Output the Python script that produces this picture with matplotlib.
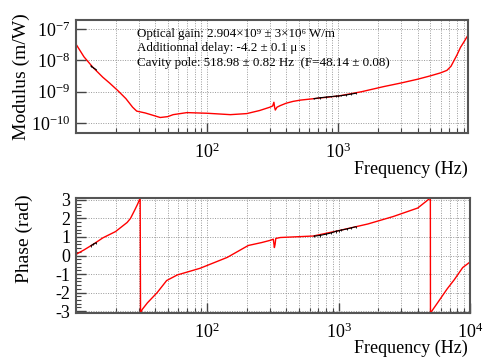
import matplotlib
matplotlib.use("Agg")
import matplotlib.pyplot as plt
from matplotlib.ticker import LogLocator, FixedLocator, NullFormatter, FuncFormatter
import numpy as np

# ---- data ----
mod_freq = [10, 11.5, 13.5, 16, 18, 21, 24, 27, 29, 33.6, 38, 43.8, 50, 55, 70, 100,
            150, 200, 250, 300, 315, 322, 326, 330, 340, 360, 400, 450, 514, 700,
            1000, 1500, 2200, 3000, 4000, 5000, 6000, 6700, 7200, 7600, 8000,
            8500, 9000, 9700]
mod_val = [3.3e-8, 1.3e-8, 5.9e-9, 2.9e-9, 1.9e-9, 1.05e-9, 6.0e-10, 3.2e-10, 2.4e-10,
           2.1e-10, 1.8e-10, 1.5e-10, 1.6e-10, 1.85e-10, 2.15e-10, 2.05e-10,
           1.85e-10, 2.0e-10, 2.5e-10, 3.2e-10, 3.5e-10, 4.6e-10, 3.2e-10, 2.6e-10,
           3.2e-10, 3.6e-10, 4.3e-10, 4.9e-10, 5.4e-10, 6.2e-10,
           7.3e-10, 1.0e-9, 1.45e-9, 1.9e-9, 2.5e-9, 3.2e-9, 4.0e-9, 4.8e-9,
           6.5e-9, 1.0e-8, 1.5e-8, 2.6e-8, 3.8e-8, 6.4e-8]

ph_freq = [10, 11.5, 13.5, 16, 20, 22, 24.5, 26, 28, 29.5, 30.8, 31.0, 32, 35, 41.5,
           49, 59, 88, 142, 205, 260, 302, 318, 324, 328, 332, 360, 640, 1000, 1670,
           2600, 4000, 4990, 5000, 5600, 6700, 7600, 8800, 10000]
ph_val = [0.06, 0.3, 0.6, 0.95, 1.29, 1.52, 1.78, 2.0, 2.45, 2.78, 3.1, -3.1, -2.9,
          -2.55, -2.0, -1.35, -1.05, -0.69, -0.1, 0.54, 0.7, 0.82, 0.88, 0.43, 0.6,
          0.92, 0.97, 1.05, 1.34, 1.7, 2.1, 2.56, 3.1, -3.1, -2.6, -1.8, -1.3,
          -0.65, -0.35]

meas_lo_freq = [13.0, 13.5, 14.2]
meas_lo_mod = [6.6e-9, 5.9e-9, 5.1e-9]
meas_lo_ph = [0.53, 0.6, 0.68]
meas_hi_freq = [650, 720, 800, 880, 950, 1000, 1050, 1150, 1250, 1350]
meas_hi_mod = [6.0e-10, 6.4e-10, 6.7e-10, 7.0e-10, 7.2e-10, 7.3e-10,
               7.5e-10, 7.9e-10, 8.4e-10, 8.9e-10]
meas_hi_ph = [1.04, 1.08, 1.15, 1.22, 1.3, 1.34, 1.37, 1.43, 1.49, 1.55]

text_lines = [
    "Optical gain: 2.904×10⁹ ± 3×10⁶ W/m",
    "Additionnal delay: -4.2 ± 0.1 μ s",
    "Cavity pole: 518.98 ± 0.82 Hz  (F=48.14 ± 0.08)",
]

# ---- style ----
plt.rcParams['font.family'] = ['Liberation Serif', 'DejaVu Serif']
plt.rcParams['mathtext.fontset'] = 'custom'
plt.rcParams['mathtext.rm'] = 'Liberation Serif'
plt.rcParams['mathtext.it'] = 'Liberation Serif:italic'
plt.rcParams['mathtext.bf'] = 'Liberation Serif:bold'

W, H = 498, 359
fig = plt.figure(figsize=(W / 100, H / 100), dpi=100)

def px_axes(l, t, r, b):
    return fig.add_axes([l / W, 1 - b / H, (r - l) / W, (b - t) / H])

ax1 = px_axes(76, 20, 468, 133)
ax2 = px_axes(76, 198, 470, 313)

frame_col = '#555555'
grid_kw = dict(color='#999999', linestyle=(0, (1, 1.5)), linewidth=0.7)
pow_fmt = FuncFormatter(lambda v, p: r"10$^{%d}$" % round(np.log10(v)))

for ax in (ax1, ax2):
    ax.set_xscale('log')
    for s in ax.spines.values():
        s.set_color(frame_col)
        s.set_linewidth(1.5)
    ax.tick_params(which='both', direction='in', colors='#444444', labelcolor='black',
                   top=False, right=False)
    ax.tick_params(which='major', length=7, width=1)
    ax.tick_params(which='minor', length=3.5, width=0.8)
    ax.tick_params(axis='y', which='major', labelsize=13, pad=4)
    ax.tick_params(axis='x', which='major', labelsize=13, pad=7)
    ax.xaxis.set_minor_locator(LogLocator(base=10, subs=np.arange(2, 10)))
    ax.xaxis.set_minor_formatter(NullFormatter())
    ax.xaxis.set_major_formatter(pow_fmt)
    ax.grid(True, which='major', axis='both', **grid_kw)
    ax.grid(True, which='minor', axis='x', **grid_kw)
    ax.set_axisbelow(True)

# top: modulus
ax1.set_yscale('log')
ax1.plot(mod_freq, mod_val, color='red', lw=1.0)
for fq, mv in ((meas_lo_freq, meas_lo_mod), (meas_hi_freq, meas_hi_mod)):
    ax1.errorbar(fq, mv, yerr=[v * 0.06 for v in mv], fmt='-', color='black',
                 lw=0.8, elinewidth=0.6, ms=0)
ax1.set_xlim(10, 9700)
ax1.set_ylim(4.8e-11, 1.95e-7)
ax1.xaxis.set_major_locator(FixedLocator([100, 1000]))
ax1.yaxis.set_major_locator(FixedLocator([1e-10, 1e-9, 1e-8, 1e-7]))
ax1.yaxis.set_major_formatter(pow_fmt)
ax1.yaxis.set_minor_locator(LogLocator(base=10, subs=np.arange(2, 10)))
ax1.yaxis.set_minor_formatter(NullFormatter())
ax1.set_ylabel("Modulus (m/W)", fontsize=14)
ax1.yaxis.set_label_coords(-0.117, 0.5)
ax1.set_xlabel("Frequency (Hz)", fontsize=13, loc='right')
ax1.xaxis.set_label_coords(1.0, -0.245)
ax1.xaxis.label.set_va('top')

for i, t in enumerate(text_lines):
    ax1.text(0.156, 0.876 - i * 0.128, t, transform=ax1.transAxes, fontsize=9.4,
             va='center', ha='left')

# bottom: phase
ax2.plot(ph_freq, ph_val, color='red', lw=1.0)
for fq, pv in ((meas_lo_freq, meas_lo_ph), (meas_hi_freq, meas_hi_ph)):
    ax2.errorbar(fq, pv, yerr=[0.06] * len(pv), fmt='-', color='black',
                 lw=0.8, elinewidth=0.6, ms=0)
ax2.set_xlim(10, 10000)
ax2.set_ylim(-3.1, 3.1)
ax2.xaxis.set_major_locator(FixedLocator([100, 1000, 10000]))
ax2.yaxis.set_major_locator(FixedLocator([-3, -2, -1, 0, 1, 2, 3]))
ax2.yaxis.set_major_formatter(FuncFormatter(lambda v, p: "%d" % round(v)))
ax2.yaxis.set_minor_locator(FixedLocator(np.arange(-3, 3.01, 0.2)))
ax2.set_ylabel("Phase (rad)", fontsize=14, loc='top')
ax2.yaxis.set_label_coords(-0.11, 1.03)
ax2.set_xlabel("Frequency (Hz)", fontsize=13, loc='right')
ax2.xaxis.set_label_coords(0.995, -0.235)
ax2.xaxis.label.set_va('top')

fig.savefig("out.png", dpi=100)
